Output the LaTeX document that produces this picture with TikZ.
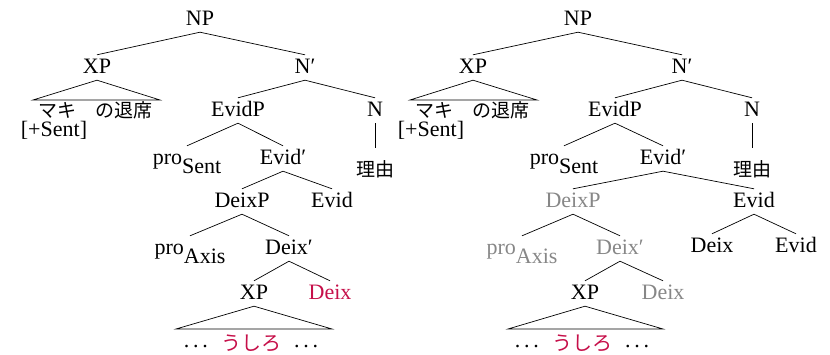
\documentclass[tikz,border=0pt]{standalone}
\usepackage{fontspec}
\setmainfont{Liberation Serif}
\newfontfamily\jpfont{Noto Sans CJK JP}
\definecolor{hl}{RGB}{198,16,74}
\definecolor{dim}{RGB}{135,135,135}
\tikzset{
  lab/.style={anchor=base, inner sep=2pt, text height=17pt, text depth=4pt,
              font=\fontsize{22}{26}\selectfont},
  jp/.style={anchor=base, inner sep=0pt, font=\jpfont\fontsize{19}{24}\selectfont},
  br/.style={line width=0.7pt},
  faded/.style={text=dim},
  red/.style={text=hl}
}
\newcommand{\jpx}[1]{\raisebox{-3pt}{\jpfont\fontsize{20}{24}\selectfont #1}}
\begin{document}
\begin{tikzpicture}[x=1pt,y=-1pt]
\useasboundingbox (0,0) rectangle (830,355);
% ---------- left tree ----------
\node[lab] (LNP) at (200,26) {NP};
\node[lab] (LXP) at (97,74) {XP};
\node[lab] (LNb) at (305,74) {N′};
\node[jp] (LXPt) at (95,118) {マキ\hspace{1em}の退席};
\node[lab, text height=14pt] (LSent) at (54,137) {[+Sent]};
\node[lab] (LEvidP) at (238,117) {EvidP};
\node[lab] (LN) at (375,117) {N};
\node[jp] (LRiyu) at (375,177) {理由};
\node[lab] (LPro) at (187,165) {pro\raisebox{-9pt}{Sent}};
\node[lab] (LEvidb) at (283,165) {Evid′};
\node[lab] (LDeixP) at (242,208) {DeixP};
\node[lab] (LEvid) at (332,208) {Evid};
\node[lab] (LProA) at (190,255) {pro\raisebox{-9pt}{Axis}};
\node[lab] (LDeixb) at (289,255) {Deix′};
\node[lab] (LXP2) at (254,300) {XP};
\node[lab,red] (LDeix) at (330,300) {Deix};
\node[lab] (LBot) at (251,348) {.\,.\,.\hspace{0.6em}\textcolor{hl}{\jpx{うしろ}}\hspace{0.6em}.\,.\,.};
\coordinate (LT1l) at (33,100);
\coordinate (LT1r) at (160,100);
\coordinate (LT2l) at (176,329);
\coordinate (LT2r) at (332,329);
\draw[br] (LNP.south) -- (LXP.north);
\draw[br] (LNP.south) -- (LNb.north);
\draw[br] (LXP.south) -- (LT1l) -- (LT1r) -- cycle;
\draw[br] (LNb.south) -- (LEvidP.north);
\draw[br] (LNb.south) -- (LN.north);
\draw[br] (LN.south) -- ([yshift=13pt]LRiyu.north);
\draw[br] (LEvidP.south) -- (LPro.north);
\draw[br] (LEvidP.south) -- (LEvidb.north);
\draw[br] (LEvidb.south) -- (LDeixP.north);
\draw[br] (LEvidb.south) -- (LEvid.north);
\draw[br] (LDeixP.south) -- (LProA.north);
\draw[br] (LDeixP.south) -- (LDeixb.north);
\draw[br] (LDeixb.south) -- (LXP2.north);
\draw[br] (LDeixb.south) -- (LDeix.north);
\draw[br] (LXP2.south) -- (LT2l) -- (LT2r) -- cycle;
% ---------- right tree ----------
\node[lab] (RNP) at (578,26) {NP};
\node[lab] (RXP) at (473,74) {XP};
\node[lab] (RNb) at (682,74) {N′};
\node[jp] (RXPt) at (472,118) {マキ\hspace{1em}の退席};
\node[lab, text height=14pt] (RSent) at (431,137) {[+Sent]};
\node[lab] (REvidP) at (615,117) {EvidP};
\node[lab] (RN) at (752,117) {N};
\node[jp] (RRiyu) at (752,177) {理由};
\node[lab] (RPro) at (564,165) {pro\raisebox{-9pt}{Sent}};
\node[lab] (REvidb) at (663,165) {Evid′};
\node[lab,faded] (RDeixP) at (573,208) {DeixP};
\node[lab] (REvid) at (754,208) {Evid};
\node[lab] (RDeixk) at (712,253) {Deix};
\node[lab] (REvidk) at (796,253) {Evid};
\node[lab,faded] (RProA) at (522,255) {pro\raisebox{-9pt}{Axis}};
\node[lab,faded] (RDeixb) at (620,255) {Deix′};
\node[lab] (RXP2) at (585,300) {XP};
\node[lab,faded] (RDeix) at (663,300) {Deix};
\node[lab] (RBot) at (582,348) {.\,.\,.\hspace{0.6em}\textcolor{hl}{\jpx{うしろ}}\hspace{0.6em}.\,.\,.};
\coordinate (RT1l) at (410,100);
\coordinate (RT1r) at (537,100);
\coordinate (RT2l) at (508,329);
\coordinate (RT2r) at (663,329);
\draw[br] (RNP.south) -- (RXP.north);
\draw[br] (RNP.south) -- (RNb.north);
\draw[br] (RXP.south) -- (RT1l) -- (RT1r) -- cycle;
\draw[br] (RNb.south) -- (REvidP.north);
\draw[br] (RNb.south) -- (RN.north);
\draw[br] (RN.south) -- ([yshift=13pt]RRiyu.north);
\draw[br] (REvidP.south) -- (RPro.north);
\draw[br] (REvidP.south) -- (REvidb.north);
\draw[br] (REvidb.south) -- (RDeixP.north);
\draw[br] (REvidb.south) -- (REvid.north);
\draw[br] (REvid.south) -- (RDeixk.north);
\draw[br] (REvid.south) -- (REvidk.north);
\draw[br] (RDeixP.south) -- (RProA.north);
\draw[br] (RDeixP.south) -- (RDeixb.north);
\draw[br] (RDeixb.south) -- (RXP2.north);
\draw[br] (RDeixb.south) -- (RDeix.north);
\draw[br] (RXP2.south) -- (RT2l) -- (RT2r) -- cycle;
\end{tikzpicture}
\end{document}
